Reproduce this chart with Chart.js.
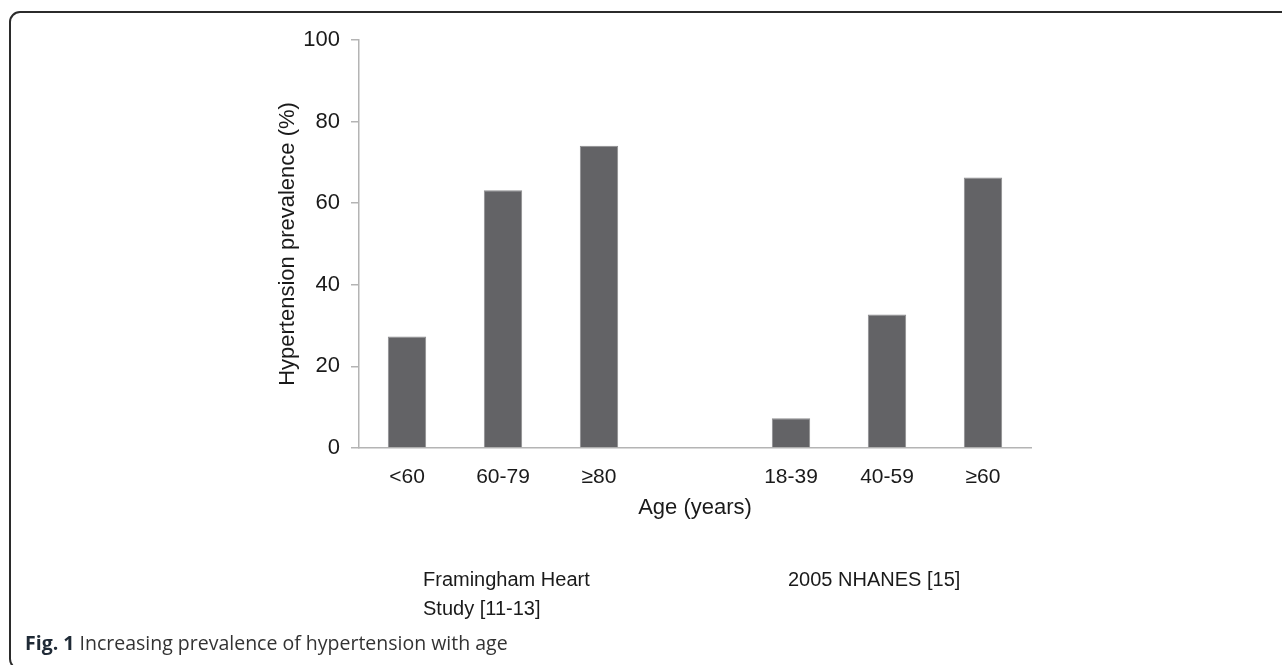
<!DOCTYPE html>
<html>
<head>
<meta charset="utf-8">
<script src="https://cdn.jsdelivr.net/npm/chart.js@4"></script>
<style>
    body { margin: 0; background: #fff; overflow: hidden; }
    #wrap { position: relative; width: 1282px; height: 665px; }
    #frame {
        position: absolute; left: 9px; top: 11px; width: 1320px; height: 655px;
        border: 2px solid #2b2b2b; border-radius: 11px;
    }
    canvas { position: absolute; left: 0; top: 0; }
    .group {
        position: absolute; font-family: "Liberation Sans", Arial, sans-serif;
        font-size: 20px; line-height: 29px; color: #1a1a1a;
    }
    #caption {
        position: absolute; left: 25px; top: 629px;
        font-family: "Open Sans", sans-serif; font-size: 19.5px; color: #333;
    }
    #caption b { color: #1f2a36; }
</style>
</head>
<body>
<div id="wrap">
    <div id="frame"></div>
    <canvas id="myChart" width="1282" height="665"></canvas>
    <div class="group" style="left:423px; top:565px;">Framingham Heart<br>Study [11-13]</div>
    <div class="group" style="left:788px; top:565px;">2005 NHANES [15]</div>
    <div id="caption"><b>Fig. 1</b> Increasing prevalence of hypertension with age</div>
</div>

<script>
// ----- DATA -----
const ageGroups = ['<60', '60-79', '≥80', '', '18-39', '40-59', '≥60'];
const prevalence = [27.3, 63.2, 74.1, null, 7.3, 32.7, 66.3];
const yTicks = [0, 20, 40, 60, 80, 100];

const axisGrey = '#b4b4b4';
const textColor = '#1a1a1a';
const fontFamily = '"Liberation Sans", Arial, sans-serif';

// ----- CHART -----
const ctx = document.getElementById('myChart').getContext('2d');
new Chart(ctx, {
    type: 'bar',
    data: {
        labels: ageGroups,
        datasets: [{
            label: 'Hypertension prevalence (%)',
            data: prevalence,
            backgroundColor: '#636366',
            borderColor: '#8c8c8e',
            borderWidth: 1,
            barPercentage: 0.4,
            categoryPercentage: 1
        }]
    },
    options: {
        responsive: false,
        animation: false,
        layout: {
            padding: { left: 259, right: 251, top: 40, bottom: 137 }
        },
        plugins: {
            legend: { display: false },
            tooltip: { enabled: false }
        },
        scales: {
            x: {
                grid: { display: false, drawTicks: false },
                border: { display: true, color: axisGrey, width: 1.5 },
                ticks: {
                    color: textColor,
                    padding: 17,
                    maxRotation: 0,
                    font: { family: fontFamily, size: 21 }
                },
                title: {
                    display: true,
                    text: 'Age (years)',
                    color: textColor,
                    padding: { top: 7, bottom: 7 },
                    font: { family: fontFamily, size: 22 }
                },
                afterFit: function(scale) { scale.height = 80; }
            },
            y: {
                min: 0,
                max: 100,
                afterBuildTicks: function(scale) {
                    scale.ticks = yTicks.map(v => ({ value: v }));
                },
                grid: {
                    drawOnChartArea: false,
                    drawTicks: true,
                    tickLength: 8,
                    color: axisGrey,
                    lineWidth: 1.5
                },
                border: { display: true, color: axisGrey, width: 1.5 },
                ticks: {
                    color: textColor,
                    padding: 11,
                    font: { family: fontFamily, size: 22 }
                },
                title: {
                    display: true,
                    text: 'Hypertension prevalence (%)',
                    color: textColor,
                    padding: { top: 16, bottom: 16 },
                    font: { family: fontFamily, size: 22 }
                },
                afterFit: function(scale) { scale.width = 100; }
            }
        }
    }
});
</script>
</body>
</html>
